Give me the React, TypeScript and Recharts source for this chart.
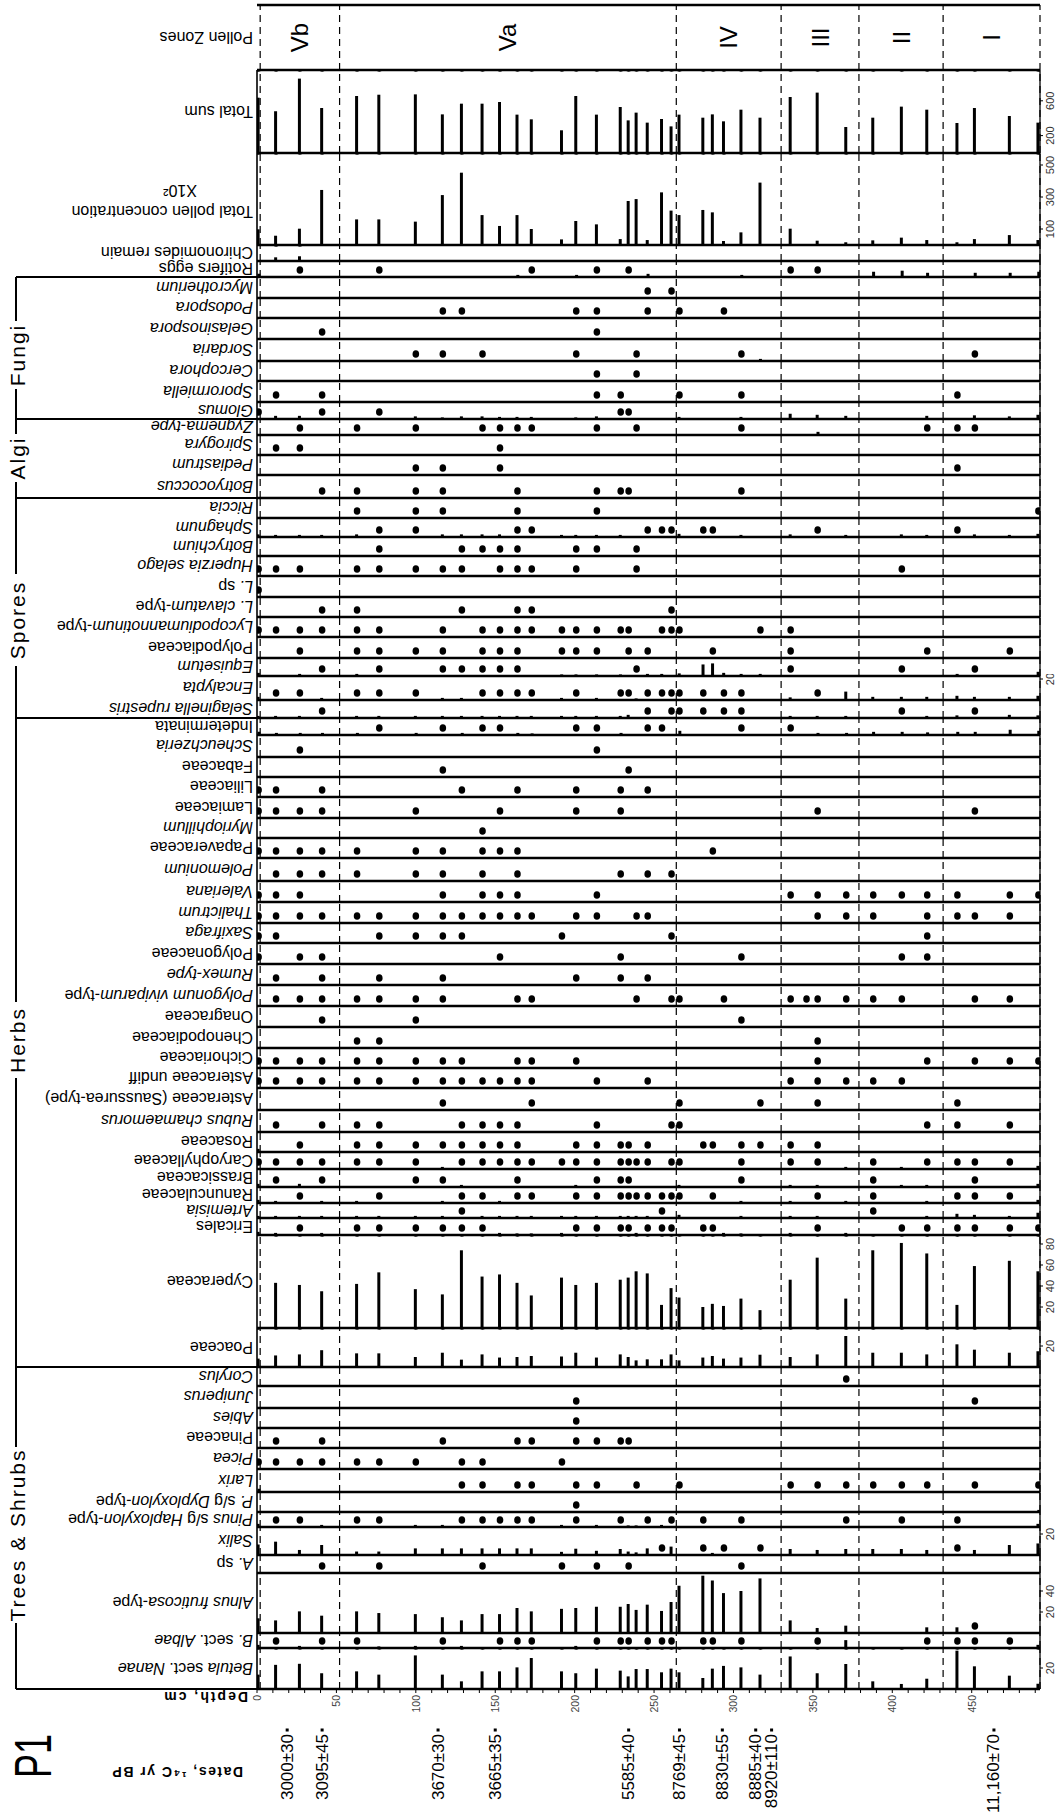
import { ComposedChart, Bar, Scatter, XAxis, YAxis, ReferenceLine } from 'recharts'

const FONT = '"Liberation Sans", Arial, Helvetica, sans-serif'
const DEPTH_MAX = 493

// zones, depth axis and radiocarbon dates
const zoneBounds = [2, 52, 264, 330, 379, 432, 493]
const zoneNames = ['Vb', 'Va', 'IV', 'III', 'II', 'I']
const depthTicks = [0, 10, 20, 30, 40, 50, 60, 70, 80, 90, 100, 110, 120, 130, 140, 150, 160, 170, 180, 190, 200, 210, 220, 230, 240, 250, 260, 270, 280, 290, 300, 310, 320, 330, 340, 350, 360, 370, 380, 390, 400, 410, 420, 430, 440, 450, 460, 470, 480, 490]
const depthLabels = [0, 50, 100, 150, 200, 250, 300, 350, 400, 450]
const dateDepths = [19, 41, 114, 150, 234, 266, 293, 314, 324, 464]
const dateLabels = ['3000±30', '3095±45', '3670±30', '3665±35', '5585±40', '8769±45', '8830±55', '8885±40', '8920±110', '11,160±70']

// [depth, value] pairs for bars, depth lists for presence dots
const totalSum = [[1, 636], [12, 480], [27, 855], [41, 517], [63, 655], [77, 670], [100, 674], [117, 444], [129, 567], [142, 567], [153, 586], [164, 441], [173, 387], [192, 261], [201, 655], [214, 441], [229, 529], [234, 375], [239, 464], [246, 349], [255, 391], [261, 306], [266, 441], [281, 406], [287, 444], [294, 364], [305, 498], [317, 406], [336, 644], [353, 694], [371, 299], [388, 406], [406, 533], [422, 498], [441, 345], [452, 517], [474, 425], [492, 349]]
const concentration = [[1, 98], [12, 58], [27, 102], [41, 344], [63, 160], [77, 160], [100, 146], [117, 312], [129, 452], [142, 187], [153, 119], [164, 187], [173, 100], [192, 35], [201, 150], [214, 129], [229, 37], [234, 275], [239, 287], [246, 31], [255, 329], [261, 215], [266, 187], [281, 219], [287, 204], [294, 25], [305, 79], [317, 390], [336, 102], [353, 27], [371, 17], [388, 29], [406, 46], [422, 31], [441, 17], [452, 37], [474, 62], [492, 31]]
const chironomides = [[12, 3.5], [27, 4.5]]
const rotifersBars = [[1, 3], [164, 2], [201, 2], [246, 3], [305, 2], [388, 5], [406, 6], [422, 4], [452, 4], [474, 4], [492, 5]]
const rotifersDots = [27, 77, 173, 214, 234, 336, 353]
const mycrotheriumDots = [246, 261]
const podosporaDots = [117, 129, 201, 214, 246, 266, 294]
const gelasinosporaDots = [41, 214]
const sordariaBars = [[317, 2]]
const sordariaDots = [100, 117, 142, 201, 239, 305, 452]
const cercophoraDots = [214, 239]
const sporormiellaDots = [12, 41, 214, 229, 266, 305, 441]
const glomusBars = [[12, 3], [27, 3], [100, 2.5], [117, 1.5], [129, 2.5], [142, 2.5], [153, 2], [164, 2], [173, 2], [201, 1.5], [214, 2.5], [266, 2], [305, 2], [336, 5], [353, 4], [371, 3], [422, 3], [452, 3.5], [474, 2.5], [492, 4]]
const glomusDots = [1, 41, 77, 229, 234]
const zygnemaBars = [[353, 3]]
const zygnemaDots = [27, 63, 100, 142, 153, 164, 173, 214, 239, 305, 422, 441, 452]
const spirogyraDots = [12, 27, 153]
const pediastrumDots = [100, 117, 153, 441]
const botryococcusDots = [41, 63, 100, 117, 164, 214, 229, 234, 305]
const ricciaDots = [63, 100, 117, 164, 214, 492]
const sphagnumBars = [[1, 2.5], [12, 2], [27, 2], [41, 2], [63, 2.5], [117, 2.5], [129, 2.5], [142, 2.5], [153, 2.5], [192, 2], [201, 2], [214, 2], [229, 2], [266, 3], [305, 2], [336, 2.5], [371, 2], [406, 2.5], [422, 2], [452, 2.5], [474, 2], [492, 3]]
const sphagnumDots = [77, 100, 164, 173, 246, 255, 261, 281, 287, 353, 441]
const botrychiumDots = [77, 129, 142, 153, 164, 201, 214, 239]
const huperziaDots = [1, 12, 27, 63, 77, 100, 117, 129, 153, 164, 173, 201, 239, 406]
const lycSpDots = [1]
const lycClavatumDots = [41, 63, 129, 164, 173, 261]
const lycAnnotinumDots = [1, 12, 27, 41, 63, 77, 117, 142, 153, 164, 173, 192, 201, 214, 229, 234, 255, 261, 266, 317, 336]
const polypodiaceaeDots = [27, 63, 77, 100, 117, 142, 153, 164, 192, 201, 214, 234, 246, 287, 336, 422, 474]
const equisetumBars = [[1, 3], [27, 2], [63, 2], [192, 1.5], [201, 1.5], [214, 1.5], [229, 1.5], [246, 2], [255, 2], [266, 2.5], [281, 11], [287, 12], [294, 3], [305, 2], [317, 2], [441, 2], [492, 4]]
const equisetumDots = [41, 77, 117, 129, 142, 153, 164, 239, 336, 406, 452]
const encalyptaBars = [[1, 3], [41, 2], [117, 2], [129, 2], [192, 2], [214, 2], [239, 1.5], [336, 2.5], [371, 8], [388, 3], [406, 3], [422, 3], [441, 4], [452, 3], [474, 3], [492, 4]]
const encalyptaDots = [12, 27, 63, 77, 100, 142, 153, 164, 173, 201, 229, 234, 246, 255, 261, 266, 281, 294, 305, 353]
const selaginellaBars = [[1, 2], [12, 2], [27, 2], [63, 2], [77, 2], [100, 2], [117, 2], [129, 2], [142, 2], [153, 2], [164, 2], [173, 2], [192, 2], [201, 2], [214, 2], [229, 2], [234, 3], [336, 2], [353, 2], [371, 2], [422, 2], [441, 2.5], [474, 3], [492, 2.5]]
const selaginellaDots = [41, 246, 261, 266, 281, 294, 305, 406, 452]
const indeterminataBars = [[1, 3], [12, 2], [27, 2], [41, 2], [63, 2], [100, 2], [129, 2], [164, 2], [173, 1.5], [229, 2], [266, 4], [353, 2], [371, 2], [388, 3], [406, 3], [422, 2.5], [441, 3], [452, 3], [474, 5], [492, 4]]
const indeterminataDots = [77, 117, 142, 153, 201, 214, 246, 255, 305, 336]
const scheuchzeriaDots = [27, 214]
const fabaceaeDots = [117, 234]
const liliaceaeDots = [1, 12, 41, 129, 164, 201, 229, 246]
const lamiaceaeDots = [1, 12, 27, 41, 100, 153, 201, 229, 353, 452]
const myriophillumDots = [142]
const papaveraceaeDots = [1, 12, 27, 41, 63, 100, 117, 142, 153, 164, 287]
const polemoniumDots = [12, 27, 41, 63, 100, 117, 142, 164, 229, 246, 261]
const valerianaDots = [1, 12, 27, 117, 142, 153, 164, 214, 336, 353, 371, 388, 406, 422, 441, 474, 492]
const thalictrumDots = [1, 12, 27, 41, 63, 77, 100, 117, 129, 142, 153, 164, 173, 201, 214, 239, 246, 353, 371, 388, 422, 441, 452, 474]
const saxifragaDots = [1, 12, 77, 100, 117, 129, 192, 261, 422]
const polygonaceaeDots = [1, 27, 41, 153, 229, 305, 406, 422]
const rumexDots = [12, 41, 77, 117, 201, 229, 246]
const polygonumDots = [12, 27, 41, 63, 77, 100, 117, 164, 173, 239, 261, 266, 294, 336, 346, 353, 371, 388, 406, 452, 474]
const onagraceaeDots = [41, 100, 305]
const chenopodiaceaeDots = [63, 77, 353]
const cichoriaceaeDots = [1, 12, 27, 41, 63, 77, 100, 117, 129, 164, 173, 201, 353, 422, 452, 474, 492]
const asteraceaeDots = [1, 12, 27, 41, 63, 77, 100, 117, 129, 142, 153, 164, 173, 214, 246, 336, 353, 371, 388, 406]
const saussureaDots = [117, 173, 266, 317, 353, 441]
const rubusDots = [12, 41, 63, 77, 129, 142, 153, 164, 214, 261, 266, 422, 441, 474]
const rosaceaeBars = [[1, 3]]
const rosaceaeDots = [27, 63, 77, 100, 117, 129, 142, 153, 164, 201, 214, 229, 234, 246, 281, 287, 305, 317, 336, 353]
const caryophyllaceaeBars = [[117, 2], [371, 2], [406, 2], [492, 3]]
const caryophyllaceaeDots = [1, 12, 27, 41, 63, 77, 100, 129, 142, 153, 164, 173, 192, 201, 214, 229, 234, 239, 246, 261, 266, 305, 336, 353, 388, 422, 441, 452, 474]
const brassicaceaeBars = [[1, 3], [27, 3], [129, 2], [201, 2], [266, 2], [336, 2], [353, 2], [406, 2], [422, 2], [492, 3]]
const brassicaceaeDots = [12, 41, 100, 117, 164, 214, 229, 234, 305, 388, 452]
const ranunculaceaeBars = [[1, 3], [12, 2], [41, 2], [63, 2], [117, 2], [153, 2], [305, 2], [336, 2], [371, 2], [422, 2], [492, 3]]
const ranunculaceaeDots = [27, 77, 129, 142, 164, 173, 201, 214, 229, 234, 239, 246, 255, 261, 266, 287, 353, 388, 441, 452, 474]
const artemisiaBars = [[1, 2], [12, 2], [27, 2], [41, 2], [63, 2], [77, 2], [100, 2], [117, 2], [142, 2], [153, 2], [164, 2], [173, 2], [192, 2], [201, 2], [214, 2], [229, 2], [234, 2], [239, 2], [246, 2], [266, 3], [305, 2], [336, 2], [353, 2], [422, 2], [441, 4], [452, 3], [474, 2], [492, 5]]
const artemisiaDots = [129, 255, 388]
const ericalesBars = [[1, 3], [12, 2], [41, 2], [153, 2], [164, 1.5], [173, 1.5], [192, 2], [239, 2], [294, 2], [305, 1.5], [336, 2], [371, 2]]
const ericalesDots = [27, 63, 77, 100, 117, 129, 142, 201, 214, 229, 234, 246, 255, 261, 281, 287, 353, 406, 422, 441, 452, 474, 492]
const cyperaceae = [[12, 43], [27, 41], [41, 35], [63, 42], [77, 53], [100, 37], [117, 32], [129, 74], [142, 49], [153, 51], [164, 43], [173, 31], [192, 48], [201, 41], [214, 43], [229, 46], [234, 48], [239, 54], [246, 52], [255, 22], [261, 38], [266, 29], [281, 20], [287, 23], [294, 21], [305, 28], [317, 17], [336, 46], [353, 67], [371, 28], [388, 74], [406, 81], [422, 71], [441, 22], [452, 59], [474, 64], [492, 54]]
const poaceae = [[1, 8], [12, 11], [27, 12], [41, 16], [63, 13], [77, 13], [100, 9.5], [117, 13.6], [129, 7], [142, 12], [153, 9], [164, 9.5], [173, 10.5], [192, 10], [201, 13.6], [214, 9], [229, 12], [234, 9.5], [239, 6.3], [246, 7.3], [255, 7.3], [261, 12], [266, 6.3], [281, 9], [287, 10.5], [294, 8], [305, 9], [317, 11.7], [336, 9.5], [353, 12], [371, 29.5], [388, 13.6], [406, 13.6], [422, 12], [441, 21.6], [452, 16.5], [474, 13.6], [492, 15]]
const corylusDots = [371]
const juniperusDots = [201, 452]
const abiesDots = [201]
const pinaceaeDots = [12, 41, 117, 164, 173, 201, 214, 229, 234]
const piceaDots = [1, 12, 27, 41, 63, 77, 100, 129, 142, 192]
const larixBars = [[1, 3]]
const larixDots = [129, 142, 164, 173, 201, 214, 239, 266, 336, 353, 371, 388, 406, 422, 452, 492]
const dyploxylonBars = [[492, 2]]
const dyploxylonDots = [201]
const haploxylonBars = [[1, 3], [41, 2], [100, 2], [117, 2], [192, 2], [214, 2], [234, 1.5], [239, 1.5], [255, 2], [492, 3]]
const haploxylonDots = [12, 27, 63, 77, 129, 142, 153, 164, 173, 201, 229, 246, 261, 281, 305, 371, 406, 441]
const salixBars = [[1, 10], [12, 12.7], [27, 4.8], [41, 9.5], [63, 3.3], [77, 3.3], [100, 6.3], [117, 6.3], [129, 6.3], [142, 6.3], [153, 6.3], [164, 6.3], [173, 6.3], [192, 3], [201, 6], [214, 4], [229, 5.7], [234, 3.3], [239, 2.5], [246, 6.3], [261, 8], [287, 2], [336, 5.7], [353, 4.8], [371, 5.7], [388, 5.7], [406, 5.7], [422, 4.8], [452, 4.8], [474, 9.5], [492, 11]]
const salixDots = [255, 281, 294, 317, 441]
const alnusSpDots = [41, 77, 142, 192, 214, 234, 305]
const alnusBars = [[1, 14], [12, 12], [27, 20.6], [41, 16.5], [63, 20.6], [77, 19], [100, 18], [117, 15], [129, 12], [142, 18], [153, 18], [164, 23.8], [173, 20.6], [192, 23], [201, 23.8], [214, 25], [229, 25], [234, 27.6], [239, 22], [246, 27], [255, 21], [261, 29.5], [266, 45], [281, 54.6], [287, 50], [294, 38], [305, 40], [317, 52], [336, 12], [353, 4.8], [371, 7], [422, 5.4], [441, 5.4]]
const alnusDots = [452]
const albaeBars = [[1, 3], [27, 2], [77, 1.5], [100, 2], [129, 2], [201, 2], [371, 7.5], [492, 3]]
const albaeDots = [12, 41, 63, 117, 153, 164, 173, 214, 229, 234, 246, 255, 261, 281, 287, 305, 353, 422, 441, 452, 474]
const nanae = [[1, 13.7], [12, 23], [27, 24], [41, 15], [63, 16.8], [77, 13.7], [100, 32], [117, 13.7], [129, 7.3], [142, 16.8], [153, 16.8], [164, 20.6], [173, 29.5], [192, 16.8], [201, 15], [214, 19.4], [229, 17.5], [234, 12], [239, 19], [246, 19], [255, 15.9], [261, 19.4], [266, 15.9], [281, 10.5], [287, 19.4], [294, 22], [305, 20.6], [317, 13.7], [336, 31], [353, 15], [371, 23.8], [388, 7.3], [406, 4.8], [422, 9.8], [441, 36.5], [452, 21.6], [474, 12.7], [492, 5]]

// page layout
const PLOT_LEFT = 257
const PLOT_W = 783
const RIGHT_W = 28
const PAD = 2
const AXIS_PAD = 14
const PCT = 1.05 // px per percent
const DOT_PX = 7
const ZONE_TOP = 5
const ZONE_BOTTOM = 70
const DASH = '7 5'

type Row = { label: string; bottom: number; bars?: number[][]; dots?: number[]; scale?: number; ticks?: number[]; sub?: string }

const rows: Row[] = [
  { label: 'Total sum', bottom: 153, bars: totalSum, scale: 0.087, ticks: [200, 600] },
  { label: 'Total pollen concentration', bottom: 245, bars: concentration, scale: 0.16, ticks: [100, 300, 500], sub: 'X10²' },
  { label: 'Chironomides remain', bottom: 261, bars: chironomides },
  { label: 'Rotifers eggs', bottom: 277, bars: rotifersBars, dots: rotifersDots },
  { label: '*Mycrotherium*', bottom: 298, dots: mycrotheriumDots },
  { label: '*Podospora*', bottom: 318, dots: podosporaDots },
  { label: '*Gelasinospora*', bottom: 339, dots: gelasinosporaDots },
  { label: '*Sordaria*', bottom: 361, bars: sordariaBars, dots: sordariaDots },
  { label: '*Cercophora*', bottom: 381, dots: cercophoraDots },
  { label: '*Sporormiella*', bottom: 402, dots: sporormiellaDots },
  { label: '*Glomus*', bottom: 419, bars: glomusBars, dots: glomusDots },
  { label: '*Zygnema-type*', bottom: 435, bars: zygnemaBars, dots: zygnemaDots },
  { label: '*Spirogyra*', bottom: 455, dots: spirogyraDots },
  { label: '*Pediastrum*', bottom: 475, dots: pediastrumDots },
  { label: '*Botryococcus*', bottom: 498, dots: botryococcusDots },
  { label: '*Riccia*', bottom: 518, dots: ricciaDots },
  { label: '*Sphagnum*', bottom: 537, bars: sphagnumBars, dots: sphagnumDots },
  { label: '*Botrychium*', bottom: 556, dots: botrychiumDots },
  { label: '*Huperzia selago*', bottom: 576, dots: huperziaDots },
  { label: '*L.* sp', bottom: 597, dots: lycSpDots },
  { label: '*L. clavatum*-type', bottom: 617, dots: lycClavatumDots },
  { label: '*Lycopodiumannotinum*-type', bottom: 637, dots: lycAnnotinumDots },
  { label: 'Polypodiaceae', bottom: 658, dots: polypodiaceaeDots },
  { label: '*Equisetum*', bottom: 676, bars: equisetumBars, dots: equisetumDots },
  { label: '*Encalypta*', bottom: 700, bars: encalyptaBars, dots: encalyptaDots, ticks: [20] },
  { label: '*Selaginella rupestris*', bottom: 718, bars: selaginellaBars, dots: selaginellaDots },
  { label: 'Indeterminata', bottom: 735, bars: indeterminataBars, dots: indeterminataDots },
  { label: '*Scheuchzeria*', bottom: 757, dots: scheuchzeriaDots },
  { label: 'Fabaceae', bottom: 777, dots: fabaceaeDots },
  { label: 'Liliaceae', bottom: 797, dots: liliaceaeDots },
  { label: 'Lamiaceae', bottom: 818, dots: lamiaceaeDots },
  { label: '*Myriophillum*', bottom: 838, dots: myriophillumDots },
  { label: 'Papaveraceae', bottom: 858, dots: papaveraceaeDots },
  { label: '*Polemonium*', bottom: 881, dots: polemoniumDots },
  { label: '*Valeriana*', bottom: 902, dots: valerianaDots },
  { label: '*Thalictrum*', bottom: 923, dots: thalictrumDots },
  { label: '*Saxifraga*', bottom: 943, dots: saxifragaDots },
  { label: 'Polygonaceae', bottom: 964, dots: polygonaceaeDots },
  { label: '*Rumex-type*', bottom: 985, dots: rumexDots },
  { label: '*Polygonum viviparum*-type', bottom: 1006, dots: polygonumDots },
  { label: 'Onagraceae', bottom: 1027, dots: onagraceaeDots },
  { label: 'Chenopodiaceae', bottom: 1048, dots: chenopodiaceaeDots },
  { label: 'Cichoriaceae', bottom: 1068, dots: cichoriaceaeDots },
  { label: 'Asteraceae undiff', bottom: 1088, dots: asteraceaeDots },
  { label: 'Asteraceae (Saussurea-type)', bottom: 1110, dots: saussureaDots },
  { label: '*Rubus chamaemorus*', bottom: 1132, dots: rubusDots },
  { label: 'Rosaceae', bottom: 1152, bars: rosaceaeBars, dots: rosaceaeDots },
  { label: 'Caryophyllaceae', bottom: 1169, bars: caryophyllaceaeBars, dots: caryophyllaceaeDots },
  { label: 'Brassicaceae', bottom: 1187, bars: brassicaceaeBars, dots: brassicaceaeDots },
  { label: 'Ranunculaceae', bottom: 1203, bars: ranunculaceaeBars, dots: ranunculaceaeDots },
  { label: '*Artemisia*', bottom: 1218, bars: artemisiaBars, dots: artemisiaDots },
  { label: 'Ericales', bottom: 1235, bars: ericalesBars, dots: ericalesDots },
  { label: 'Cyperaceae', bottom: 1328, bars: cyperaceae, ticks: [20, 40, 60, 80] },
  { label: 'Poaceae', bottom: 1367, bars: poaceae, ticks: [20] },
  { label: '*Corylus*', bottom: 1386, dots: corylusDots },
  { label: '*Juniperus*', bottom: 1408, dots: juniperusDots },
  { label: '*Abies*', bottom: 1428, dots: abiesDots },
  { label: 'Pinaceae', bottom: 1448, dots: pinaceaeDots },
  { label: '*Picea*', bottom: 1469, dots: piceaDots },
  { label: '*Larix*', bottom: 1492, bars: larixBars, dots: larixDots },
  { label: '*P.* s/g *Dyploxylon*-type', bottom: 1512, bars: dyploxylonBars, dots: dyploxylonDots },
  { label: '*Pinus* s/g *Haploxylon*-type', bottom: 1527, bars: haploxylonBars, dots: haploxylonDots },
  { label: '*Salix*', bottom: 1555, bars: salixBars, dots: salixDots, ticks: [20] },
  { label: '*A.* sp', bottom: 1573, dots: alnusSpDots },
  { label: '*Alnus fruticosa*-type', bottom: 1633, bars: alnusBars, dots: alnusDots, ticks: [20, 40] },
  { label: '*B.* sect. *Albae*', bottom: 1648, bars: albaeBars, dots: albaeDots },
  { label: '*Betula* sect. *Nanae*', bottom: 1689, bars: nanae, ticks: [20] },
]

const groups = [
  { name: 'Fungi', top: 277, bottom: 419, mid: 355, half: 34 },
  { name: 'Algi', top: 419, bottom: 498, mid: 458, half: 24 },
  { name: 'Spores', top: 498, bottom: 718, mid: 620, half: 46 },
  { name: 'Herbs', top: 718, bottom: 1367, mid: 1040, half: 38 },
  { name: 'Trees & Shrubs', top: 1367, bottom: 1689, mid: 1535, half: 88 },
]

const DotShape = (p: any) => <ellipse cx={p.cx} cy={p.cy} rx={3.3} ry={3.8} fill="#000" />

const RightTick = (p: any) => {
  const x = p.x + 5
  return (
    <text x={x} y={p.y} transform={`rotate(-90 ${x} ${p.y})`} textAnchor="middle" dominantBaseline="central"
      fontSize={11} fill="#333" fontFamily={FONT}>{p.payload.value}</text>
  )
}

const DepthTick = (p: any) => {
  if (!depthLabels.includes(p.payload.value)) return <g />
  const y = p.y
  return (
    <text x={p.x} y={y} transform={`rotate(-90 ${p.x} ${y})`} textAnchor="end" dominantBaseline="central"
      fontSize={10.5} fill="#444" fontFamily={FONT}>{p.payload.value}</text>
  )
}

const DateTick = (p: any) => {
  const y = p.y - 2
  return (
    <g>
      <rect x={p.x - 1.5} y={y - 2.5} width={3} height={3} fill="#000" />
      <text x={p.x} y={y + 3} transform={`rotate(-90 ${p.x} ${y + 3})`} textAnchor="end" dominantBaseline="central"
        fontSize={17} fill="#000" fontFamily={FONT}>{dateLabels[p.index]}</text>
    </g>
  )
}

const ZoneLabel = (p: any) => (
  <text x={p.cx} y={p.cy} transform={`rotate(-90 ${p.cx} ${p.cy})`} textAnchor="middle" dominantBaseline="central"
    fontSize={24} fill="#000" fontFamily={FONT}>{p.payload.name}</text>
)

function Label({ text, x, y }: { text: string; x: number; y: number }) {
  const parts = text.split('*')
  return (
    <text x={x} y={y} transform={`rotate(180 ${x} ${y})`} textAnchor="start" dominantBaseline="central" fontSize={16} fill="#000">
      {parts.map((t, i) => (t ? <tspan key={i} fontStyle={i % 2 ? 'italic' : 'normal'}>{t}</tspan> : null))}
    </text>
  )
}

function TaxonRow({ row, top }: { row: Row; top: number }) {
  const h = row.bottom - top
  const scale = row.scale ?? PCT
  const yMax = h / scale
  const data = (row.bars ?? []).map(([depth, v]) => ({ depth, v }))
  const dots = (row.dots ?? []).map((depth) => ({ depth, y: DOT_PX / scale }))
  const ticks = row.ticks ?? []
  return (
    <div style={{ position: 'absolute', left: PLOT_LEFT - PAD, top: top - PAD }}>
      <ComposedChart width={PAD + PLOT_W + RIGHT_W} height={h + 2 * PAD} data={data}
        margin={{ top: PAD, right: 0, bottom: PAD, left: PAD }}>
        <XAxis type="number" dataKey="depth" domain={[0, DEPTH_MAX]} hide allowDataOverflow />
        <YAxis orientation="right" type="number" domain={[0, yMax]} allowDataOverflow width={RIGHT_W}
          ticks={ticks.length ? ticks : undefined} interval={0}
          axisLine={{ stroke: '#000', strokeWidth: 1.3 }}
          tickLine={ticks.length ? { stroke: '#000' } : false} tickSize={3}
          tick={ticks.length ? <RightTick /> : false} />
        {zoneBounds.map((d) => (
          <ReferenceLine key={d} x={d} stroke="#000" strokeWidth={1.2} strokeDasharray={DASH} />
        ))}
        <ReferenceLine x={0} stroke="#000" strokeWidth={1.6} />
        <ReferenceLine y={0} stroke="#000" strokeWidth={2.4} />
        <Bar dataKey="v" fill="#000" barSize={3} isAnimationActive={false} />
        <Scatter data={dots} dataKey="y" shape={DotShape} isAnimationActive={false} />
      </ComposedChart>
    </div>
  )
}

export default function App() {
  const tops = rows.map((r, i) => (i === 0 ? ZONE_BOTTOM : rows[i - 1].bottom))
  const zoneData = zoneNames.map((name, i) => ({ depth: (zoneBounds[i] + zoneBounds[i + 1]) / 2, y: 0.5, name }))
  const plotBottom = rows[rows.length - 1].bottom
  const axisH = 1820 - plotBottom

  return (
    <div style={{ position: 'absolute', left: 0, top: 0, width: 1064, height: 1820, background: '#fff', fontFamily: FONT }}>
      <svg width={1064} height={1820} style={{ position: 'absolute', left: 0, top: 0 }} fontFamily={FONT}>
        <Label text="Pollen Zones" x={253} y={(ZONE_TOP + ZONE_BOTTOM) / 2} />
        {rows.map((r, i) => (
          <Label key={r.label} text={r.label} x={253} y={r.sub ? (tops[i] + r.bottom) / 2 + 13 : (tops[i] + r.bottom) / 2} />
        ))}
        <Label text="X10²" x={197} y={191} />
        {groups.map((g) => (
          <g key={g.name}>
            <line x1={16} x2={PLOT_LEFT} y1={g.top} y2={g.top} stroke="#000" strokeWidth={2} />
            <line x1={16} x2={16} y1={g.top} y2={g.mid - g.half} stroke="#000" strokeWidth={2} />
            <line x1={16} x2={16} y1={g.mid + g.half} y2={g.bottom} stroke="#000" strokeWidth={2} />
            <text x={17} y={g.mid} transform={`rotate(-90 17 ${g.mid})`} textAnchor="middle" dominantBaseline="central"
              fontSize={21} letterSpacing={2}>{g.name}</text>
          </g>
        ))}
        <line x1={16} x2={PLOT_LEFT} y1={plotBottom} y2={plotBottom} stroke="#000" strokeWidth={2} />
        <text x={248} y={1697} transform="rotate(180 248 1697)" fontSize={14} fontWeight="bold" dominantBaseline="central" letterSpacing={2}>Depth, cm</text>
        <text x={243} y={1772} transform="rotate(180 243 1772)" fontSize={14} fontWeight="bold" dominantBaseline="central" letterSpacing={1.5}>Dates, ¹⁴C yr BP</text>
        <text x={33} y={1756} transform="rotate(-90 33 1756)" fontSize={52} textAnchor="middle" dominantBaseline="central"
          textLength={44} lengthAdjust="spacingAndGlyphs">P1</text>
      </svg>

      <div style={{ position: 'absolute', left: PLOT_LEFT - PAD, top: ZONE_TOP - PAD }}>
        <ComposedChart width={PAD + PLOT_W + RIGHT_W} height={ZONE_BOTTOM - ZONE_TOP + 2 * PAD} data={zoneData}
          margin={{ top: PAD, right: RIGHT_W, bottom: PAD, left: PAD }}>
          <XAxis type="number" dataKey="depth" domain={[0, DEPTH_MAX]} hide allowDataOverflow />
          <YAxis type="number" domain={[0, 1]} hide allowDataOverflow />
          {zoneBounds.map((d) => (
            <ReferenceLine key={d} x={d} stroke="#000" strokeWidth={1.2} strokeDasharray={DASH} />
          ))}
          <ReferenceLine y={0} stroke="#000" strokeWidth={2.6} />
          <ReferenceLine y={1} stroke="#000" strokeWidth={2.6} />
          <Scatter dataKey="y" shape={ZoneLabel} isAnimationActive={false} />
        </ComposedChart>
      </div>

      {rows.map((r, i) => <TaxonRow key={r.label} row={r} top={tops[i]} />)}

      <div style={{ position: 'absolute', left: PLOT_LEFT - AXIS_PAD, top: plotBottom - 1 }}>
        <ComposedChart width={AXIS_PAD + PLOT_W + RIGHT_W} height={axisH + 1} data={zoneBounds.map((d) => ({ depth: d }))}
          margin={{ top: 0, right: RIGHT_W, bottom: 0, left: AXIS_PAD }}>
          <XAxis type="number" dataKey="depth" domain={[0, DEPTH_MAX]} ticks={depthTicks} interval={0} height={36}
            axisLine={false} tickLine={{ stroke: '#000' }} tickSize={4} tick={<DepthTick />} allowDataOverflow />
          <XAxis xAxisId="dates" type="number" dataKey="depth" domain={[0, DEPTH_MAX]} ticks={dateDepths} interval={0} height={axisH - 36}
            axisLine={false} tickLine={false} tick={<DateTick />} allowDataOverflow />
          <YAxis type="number" domain={[0, 1]} hide />
        </ComposedChart>
      </div>
    </div>
  )
}
